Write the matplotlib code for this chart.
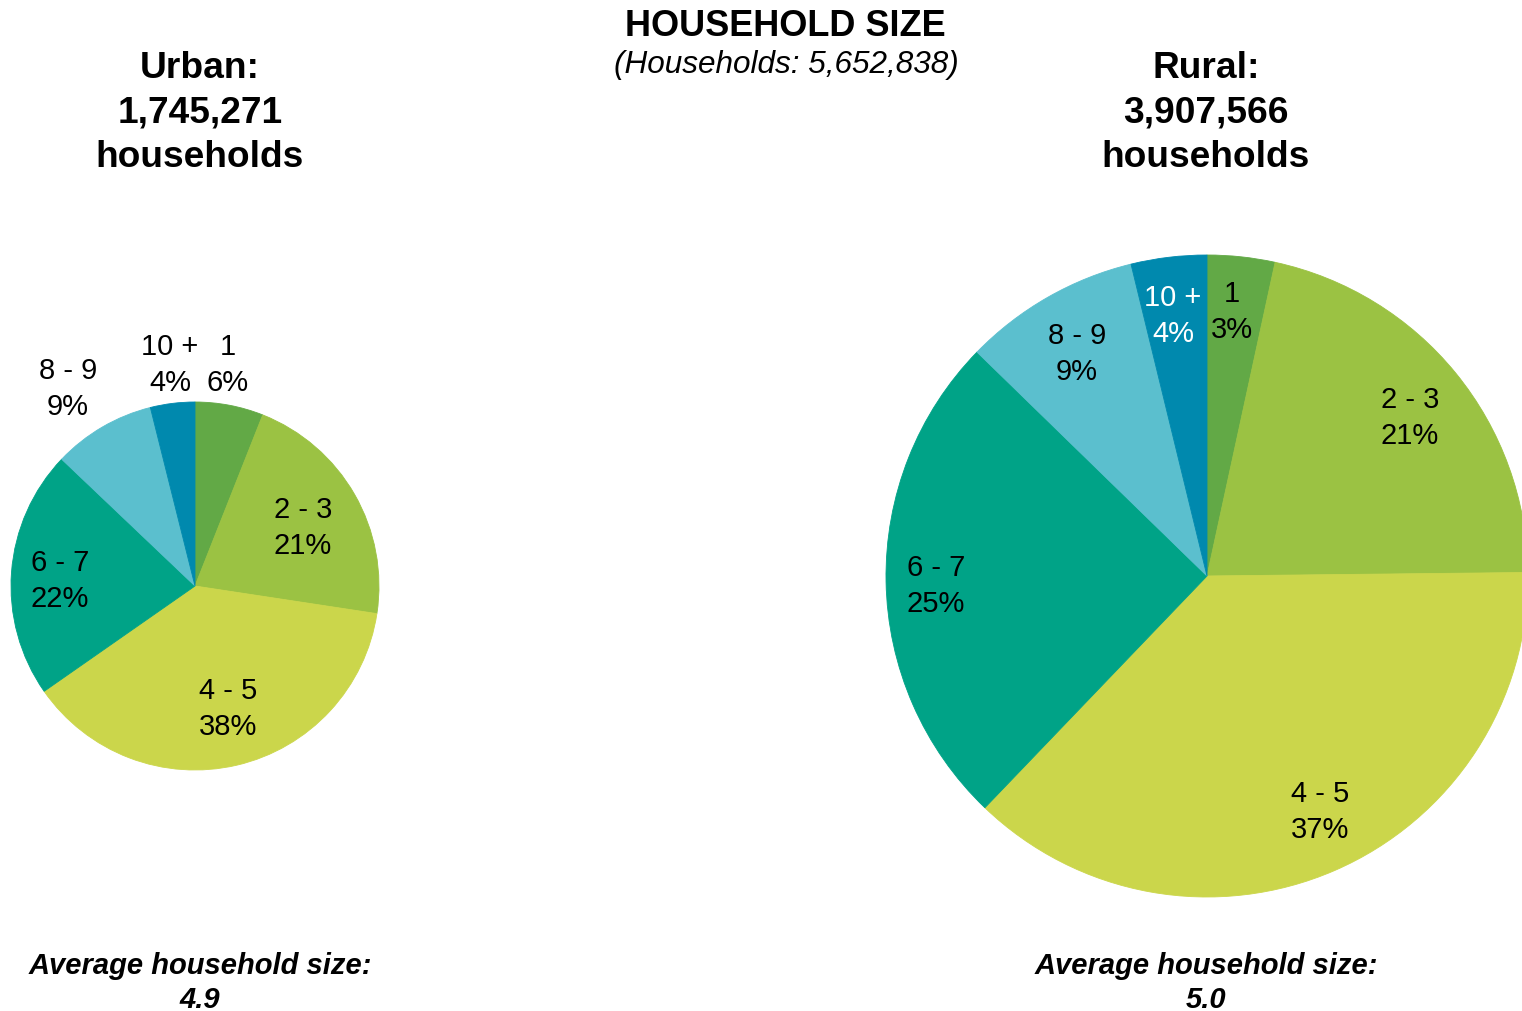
import matplotlib
matplotlib.use("Agg")
import matplotlib.pyplot as plt

plt.rcParams["font.family"] = ["Liberation Sans", "DejaVu Sans"]

# Household size categories and shares (%) by area
categories = ["1", "2 - 3", "4 - 5", "6 - 7", "8 - 9", "10 +"]
urban_share = [6.0, 21.4, 37.9, 21.8, 9.0, 3.9]
rural_share = [3.4, 21.4, 37.3, 25.1, 8.9, 3.8]
slice_colors = ["#62a946", "#9bc243", "#cbd64b", "#00a387", "#5bbfce", "#0089ae"]

total_households = "5,652,838"
urban_households = "1,745,271"
rural_households = "3,907,566"
urban_avg_size = "4.9"
rural_avg_size = "5.0"

W, H = 1522, 1011
fig = plt.figure(figsize=(W / 100, H / 100), dpi=100)
ax = fig.add_axes([0, 0, 1, 1])


def y(py):
    """Convert a top-down pixel row into the axes' bottom-up coordinate."""
    return H - py


def draw_pie(values, cx, cy, r, label_pos, label_colors):
    wedges, _ = ax.pie(values, colors=slice_colors, startangle=90, counterclock=False,
                       center=(cx, y(cy)), radius=r, frame=False,
                       wedgeprops=dict(linewidth=0.6))
    for w in wedges:
        w.set_edgecolor(w.get_facecolor())
    for cat, val, (lx, ly), tc in zip(categories, values, label_pos, label_colors):
        ax.text(lx, y(ly), f"{cat}\n{round(val):.0f}%", ha="center", va="center",
                fontsize=21, color=tc, linespacing=1.36)


draw_pie(urban_share, 195, 586, 184,
         [(228, 365), (303, 528), (228, 709), (60, 581), (68, 389), (170, 365)],
         ["black"] * 6)
draw_pie(rural_share, 1207, 576, 321,
         [(1232, 312), (1410, 418), (1320, 812), (936, 586), (1077, 354), (1173, 316)],
         ["black"] * 5 + ["white"])

ax.set_xlim(0, W)
ax.set_ylim(0, H)
ax.set_aspect("equal")
ax.axis("off")

# Titles
ax.text(785, y(26), "HOUSEHOLD SIZE", ha="center", va="center",
        fontsize=26, fontweight="bold")
ax.text(786, y(65.5), f"(Households: {total_households})", ha="center", va="center",
        fontsize=22.7, fontstyle="italic")

for cx, name, count in [(200, "Urban", urban_households), (1206, "Rural", rural_households)]:
    ax.text(cx, y(113), f"{name}:\n{count}\nhouseholds", ha="center", va="center",
            fontsize=26.7, fontweight="bold", linespacing=1.335)

for cx, avg in [(200, urban_avg_size), (1206, rural_avg_size)]:
    ax.text(cx, y(983), f"Average household size:\n{avg}", ha="center", va="center",
            fontsize=21, fontweight="bold", fontstyle="italic", linespacing=1.25)

fig.savefig("out.png", dpi=100, facecolor="white")
